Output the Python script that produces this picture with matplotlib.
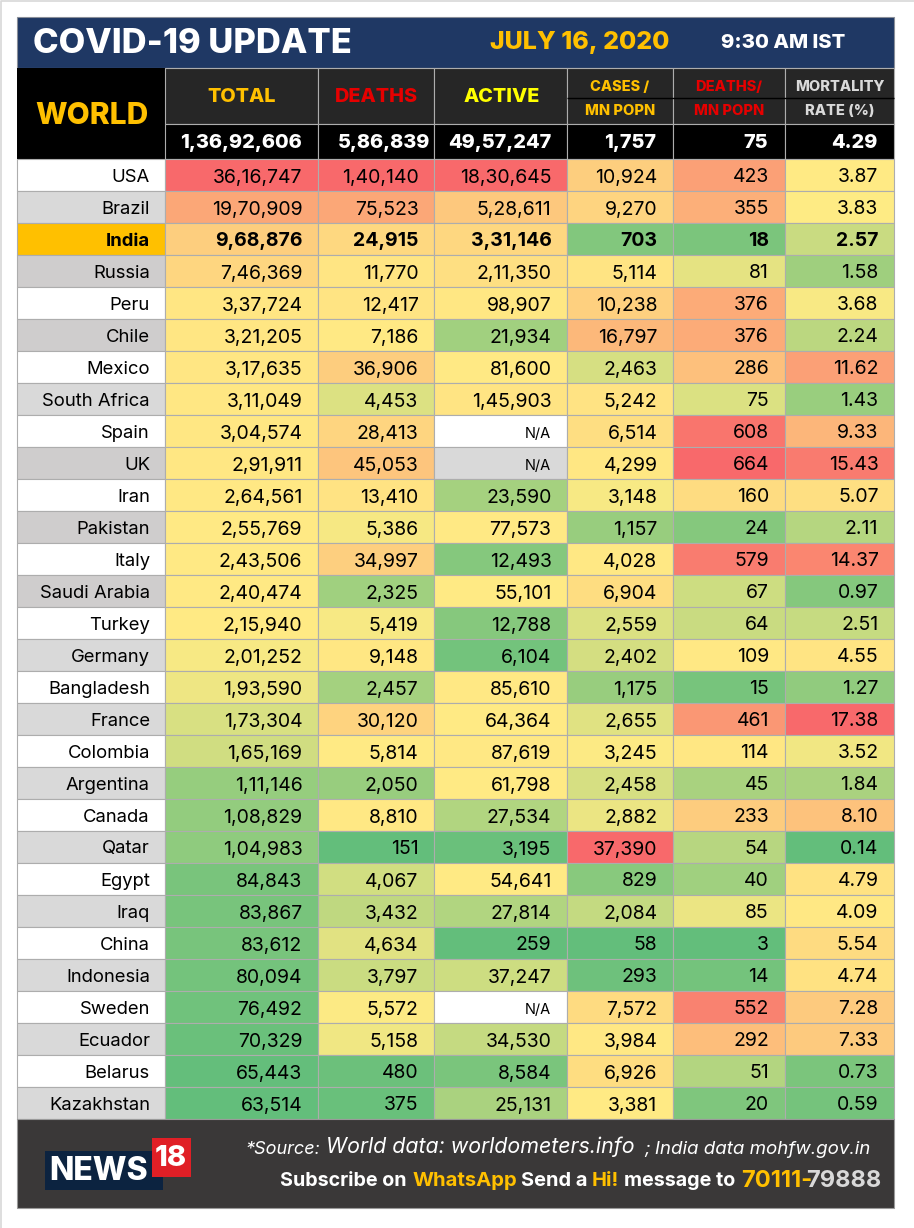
import matplotlib
matplotlib.use('Agg')
import matplotlib.pyplot as plt
from matplotlib.colors import LinearSegmentedColormap, TwoSlopeNorm
from matplotlib.patches import Rectangle
import numpy as np

plt.rcParams['font.family'] = ['Inter', 'DejaVu Sans']

countries = ['USA', 'Brazil', 'India', 'Russia', 'Peru', 'Chile', 'Mexico', 'South Africa', 'Spain', 'UK',
             'Iran', 'Pakistan', 'Italy', 'Saudi Arabia', 'Turkey', 'Germany', 'Bangladesh', 'France', 'Colombia',
             'Argentina', 'Canada', 'Qatar', 'Egypt', 'Iraq', 'China', 'Indonesia', 'Sweden', 'Ecuador', 'Belarus',
             'Kazakhstan']
total = ['36,16,747', '19,70,909', '9,68,876', '7,46,369', '3,37,724', '3,21,205', '3,17,635', '3,11,049', '3,04,574',
         '2,91,911', '2,64,561', '2,55,769', '2,43,506', '2,40,474', '2,15,940', '2,01,252', '1,93,590', '1,73,304',
         '1,65,169', '1,11,146', '1,08,829', '1,04,983', '84,843', '83,867', '83,612', '80,094', '76,492', '70,329',
         '65,443', '63,514']
deaths = ['1,40,140', '75,523', '24,915', '11,770', '12,417', '7,186', '36,906', '4,453', '28,413', '45,053', '13,410',
          '5,386', '34,997', '2,325', '5,419', '9,148', '2,457', '30,120', '5,814', '2,050', '8,810', '151', '4,067',
          '3,432', '4,634', '3,797', '5,572', '5,158', '480', '375']
active = ['18,30,645', '5,28,611', '3,31,146', '2,11,350', '98,907', '21,934', '81,600', '1,45,903', 'N/A', 'N/A',
          '23,590', '77,573', '12,493', '55,101', '12,788', '6,104', '85,610', '64,364', '87,619', '61,798', '27,534',
          '3,195', '54,641', '27,814', '259', '37,247', 'N/A', '34,530', '8,584', '25,131']
cases_mn = ['10,924', '9,270', '703', '5,114', '10,238', '16,797', '2,463', '5,242', '6,514', '4,299', '3,148', '1,157',
            '4,028', '6,904', '2,559', '2,402', '1,175', '2,655', '3,245', '2,458', '2,882', '37,390', '829', '2,084',
            '58', '293', '7,572', '3,984', '6,926', '3,381']
deaths_mn = ['423', '355', '18', '81', '376', '376', '286', '75', '608', '664', '160', '24', '579', '67', '64', '109',
             '15', '461', '114', '45', '233', '54', '40', '85', '3', '14', '552', '292', '51', '20']
mortality = ['3.87', '3.83', '2.57', '1.58', '3.68', '2.24', '11.62', '1.43', '9.33', '15.43', '5.07', '2.11', '14.37',
             '0.97', '2.51', '4.55', '1.27', '17.38', '3.52', '1.84', '8.10', '0.14', '4.79', '4.09', '5.54', '4.74',
             '7.28', '7.33', '0.73', '0.59']
world_totals = ['1,36,92,606', '5,86,839', '49,57,247', '1,757', '75', '4.29']
columns = [total, deaths, active, cases_mn, deaths_mn, mortality]
dark_rows = ['Russia', 'Chile', 'UK', 'Pakistan', 'Saudi Arabia']

# grid, in pixels of the original
edges = [165, 318, 434, 567, 673, 784.5, 894]
left = 16.5
row_top = 159
row_h = 32
grid = '#adadad'
scale = LinearSegmentedColormap.from_list('rag', ['#63be7b', '#ffeb84', '#f8696b'])

fig = plt.figure(figsize=(9.14, 12.28), dpi=100, facecolor='white')
ax = fig.add_axes([0, 0, 1, 1])
ax.set_xlim(0, 914)
ax.set_ylim(1228, 0)
ax.axis('off')


def box(x0, y0, x1, y1, color, edge='none', lw=0.8):
    ax.add_patch(Rectangle((x0, y0), x1 - x0, y1 - y0, facecolor=color, edgecolor=edge, linewidth=lw))


def num(s):
    return np.nan if s == 'N/A' else float(s.replace(',', ''))


# page outline
ax.plot([1, 1, 914], [1228, 0.5, 0.5], color='#d8d8d8', lw=1.2)

# banner
box(left, 17, edges[-1], 67.5, '#1f3864', '#8a8f99')
ax.text(33, 44, 'COVID-19 UPDATE', color='white', fontsize=24.8, fontweight=800, va='center', ha='left')
ax.text(490, 43, 'JULY 16, 2020', color='#ffc000', fontsize=18, fontweight=800, va='center', ha='left')
ax.text(721, 43, '9:30 AM IST', color='white', fontsize=14.6, fontweight=800, va='center', ha='left')

# header block
box(left, 67.5, edges[0], row_top, 'black')
ax.text(91.5, 116, 'WORLD', color='#ffc000', fontsize=21.5, fontweight=800, va='center', ha='center')
for x0, x1 in zip(edges[:-1], edges[1:]):
    box(x0, 67.5, x1, 123.5, '#262626', grid)
    box(x0, 123.5, x1, row_top, 'black', grid)
ax.plot([edges[3], edges[-1]], [97.5, 97.5], color='black', lw=1, solid_capstyle='butt')

for x, name, c in [(242, 'TOTAL', '#ffc000'), (376, 'DEATHS', '#e60000'), (502, 'ACTIVE', '#ffff00')]:
    ax.text(x, 97, name, color=c, fontsize=14.3, fontweight=800, va='center', ha='center')
heads = [(620, 'CASES /', 'MN POPN', '#ffc000'), (729, 'DEATHS/', 'MN POPN', '#e60000'),
         (840, 'MORTALITY', 'RATE (%)', '#d9d9d9')]
for x, a, b, c in heads:
    ax.text(x, 87, a, color=c, fontsize=10.5, fontweight=800, va='center', ha='center')
    ax.text(x, 111, b, color=c, fontsize=10.5, fontweight=800, va='center', ha='center')
for x1, s in zip([302, 430, 551, 656, 768, 878], world_totals):
    ax.text(x1, 142.5, s, color='white', fontsize=14.3, fontweight=800, va='center', ha='right')

# table
for i, name in enumerate(countries):
    y0 = row_top + i * row_h
    y1 = y0 + row_h
    if name == 'India':
        bg = '#ffc000'
    elif name in dark_rows:
        bg = '#cfcdcd'
    else:
        bg = '#ffffff' if i % 2 == 0 else '#d9d9d9'
    box(left, y0, edges[0], y1, bg, grid)
    ax.text(150, y0 + 18, name, color='black', fontsize=13.3, va='center', ha='right',
            fontweight='bold' if name == 'India' else 'normal')

for j, col in enumerate(columns):
    vals = np.array([num(s) for s in col])
    norm = TwoSlopeNorm(vmin=np.nanmin(vals), vcenter=np.nanmedian(vals), vmax=np.nanmax(vals))
    for i, s in enumerate(col):
        y0 = row_top + i * row_h
        if s == 'N/A':
            face = '#ffffff' if i % 2 == 0 else '#d9d9d9'
        else:
            face = scale(norm(vals[i]))
        box(edges[j], y0, edges[j + 1], y0 + row_h, face, grid)
        bold = countries[i] == 'India'
        ax.text(edges[j + 1] - 15.5, y0 + 18.5, s, color='black', va='center', ha='right',
                fontsize=10.5 if s == 'N/A' else 14, fontweight='bold' if bold else 'normal')

# footer
foot_top = row_top + len(countries) * row_h
box(left, foot_top, edges[-1], 1208, '#3a3838', '#9a9a9a')
box(44.5, 1151, 163, 1190, '#0c2340')
ax.text(99, 1171.5, 'NEWS', color='white', fontsize=23, fontweight=800, va='center', ha='center')
box(151.5, 1138, 191, 1177, '#e01f26')
ax.text(171, 1158, '18', color='white', fontsize=21, fontweight=800, va='center', ha='center')

ax.text(245, 1149, '*Source:', color='white', fontsize=13, style='italic', va='center', ha='left')
ax.text(326, 1147, 'World data: worldometers.info', color='white', fontsize=15.4, style='italic', va='center', ha='left')
ax.text(644, 1149, '; India data mohfw.gov.in', color='white', fontsize=13.5, style='italic', va='center', ha='left')

# second footer line is built from pieces so the highlighted words keep their colour
pieces = [(280, 'Subscribe on', 'white', 14.2), (413, 'WhatsApp', '#ffc000', 14.6), (521, 'Send a', 'white', 14.4),
          (592, 'Hi!', '#ffc000', 14.4), (624, 'message to', 'white', 14.2), (741, '70111-', '#ffc000', 17),
          (806, '79888', '#d9d9d9', 17)]
for x, s, c, size in pieces:
    ax.text(x, 1181, s, color=c, fontsize=size, fontweight='bold', va='center', ha='left')

fig.savefig('out.png', dpi=100)
